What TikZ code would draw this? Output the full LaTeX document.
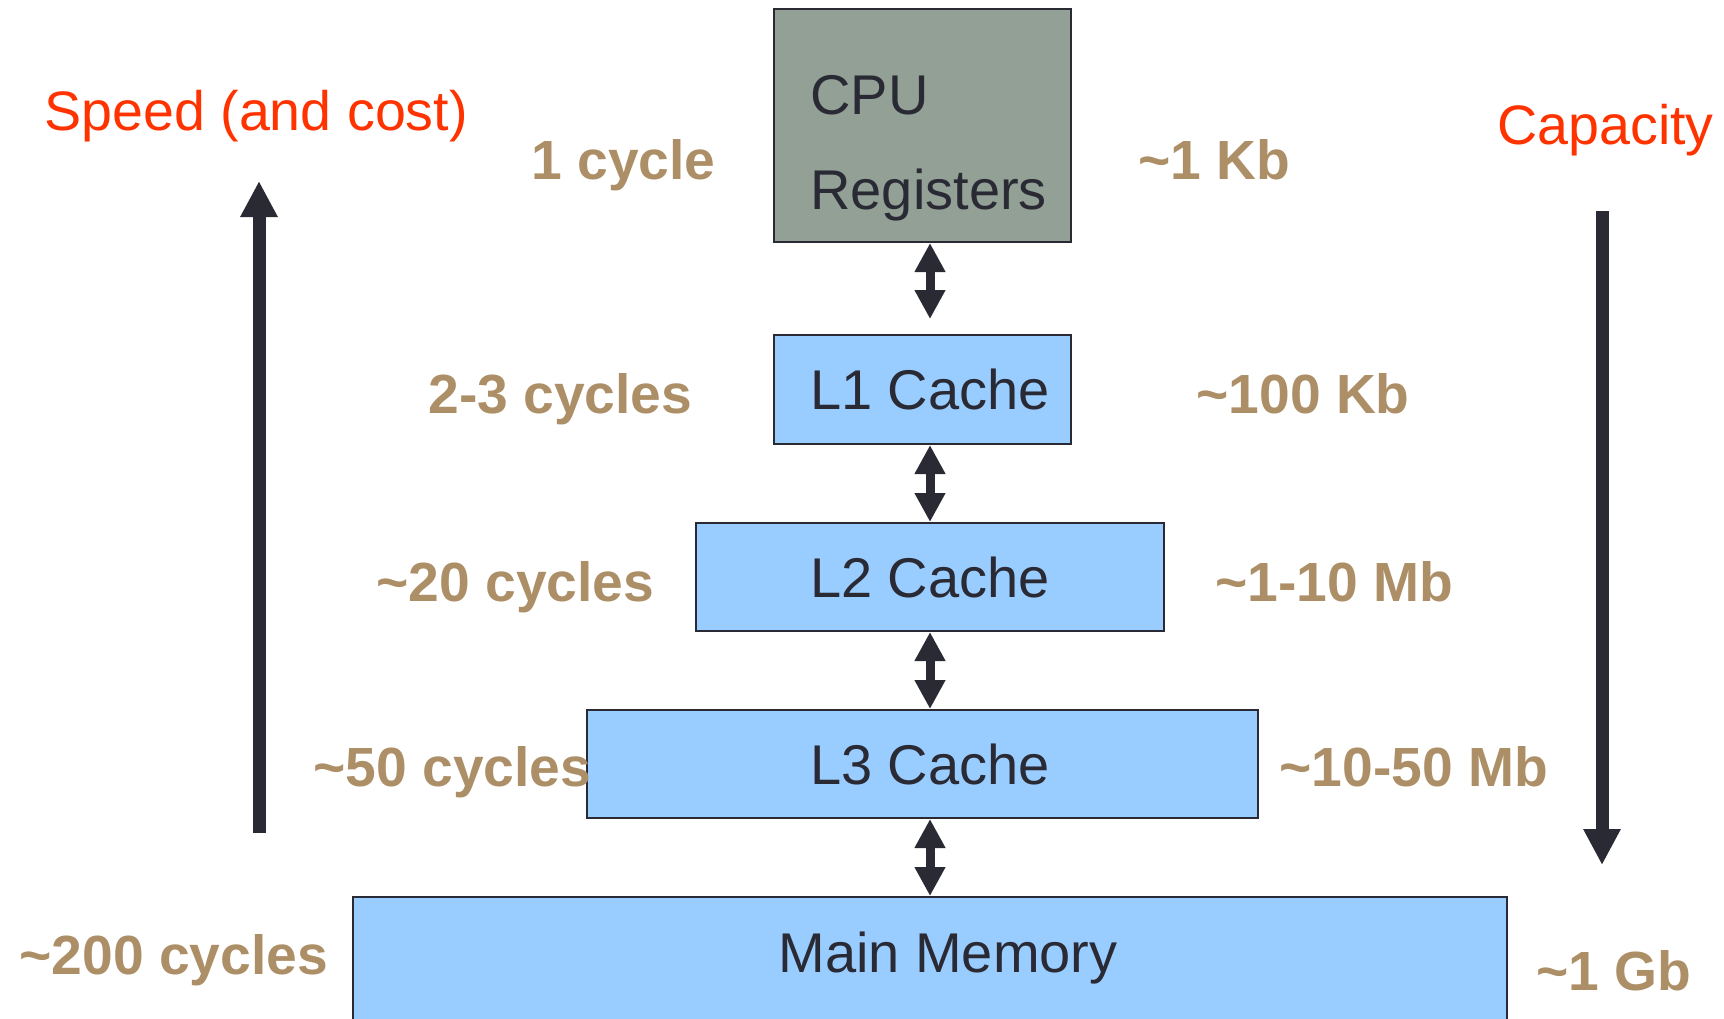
\documentclass[tikz,border=0pt]{standalone}
\usepackage{fontspec}
\setmainfont{Liberation Sans}
\usetikzlibrary{arrows.meta}

\definecolor{cpugray}{RGB}{146,160,150}
\definecolor{cacheblue}{RGB}{153,204,255}
\definecolor{darkink}{RGB}{42,42,52}
\definecolor{axisred}{RGB}{255,51,0}
\definecolor{costtan}{RGB}{173,143,103}

\begin{document}
\begin{tikzpicture}[x=0.5pt,y=-0.5pt,
        box/.style={draw=darkink, line width=1pt, rectangle, inner sep=0pt, text=darkink, font=\fontsize{28}{33}\selectfont},
        boxtext/.style={inner sep=0pt, text=darkink, font=\fontsize{28}{33}\selectfont},
        cost/.style={inner sep=0pt, text=costtan, font=\fontsize{27.6}{33}\selectfont\bfseries},
        axislabel/.style={inner sep=0pt, text=axisred, font=\fontsize{27.8}{33}\selectfont},
        link/.style={draw=darkink, line width=4.5pt, {Triangle[width=14.5pt,length=14.5pt]}-{Triangle[width=14.5pt,length=14.5pt]}},
        trend/.style={draw=darkink, line width=6.5pt, -{Triangle[width=17.5pt,length=18pt]}}]
        % Define Variables
        \def\spdx{259}
        \def\capx{1602}
        \clip (0,0) rectangle (1724,1018);

        % Hierarchy
        \node[box, fill=cpugray, minimum width=148.5pt, minimum height=116.5pt] at (922.5,125.5) (cpu) {};
        \node[boxtext, anchor=base west] at (810,114) (cpu-a) {CPU};
        \node[boxtext, anchor=base west] at (810,209) (cpu-b) {Registers};
        \node[box, fill=cacheblue, minimum width=148.5pt, minimum height=54.5pt] at (922.5,389.5) (l1) {\hspace*{7.5pt}L1 Cache};
        \node[box, fill=cacheblue, minimum width=234pt, minimum height=54pt] at (930,577) (l2) {L2 Cache};
        \node[box, fill=cacheblue, minimum width=335.5pt, minimum height=54pt] at (922.5,764) (l3) {\hspace*{7.5pt}L3 Cache};
        \node[box, fill=cacheblue, minimum width=577pt, minimum height=70pt] at (930,967) (mm) {};
        \node[boxtext, anchor=base] at (948,972) (mm-t) {Main Memory};

        % Links
        \draw[link, shorten >=7.5pt] (cpu.south -| l2.north) -- (l1.north -| l2.north);
        \draw[link] (l1.south -| l2.north) -- (l2.north);
        \draw[link] (l2.south) -- (l3.north -| l2.north);
        \draw[link] (l3.south -| l2.north) -- (mm.north -| l2.north);

        % Speed and Capacity
        \node[axislabel, anchor=base west] at (44,130) (speed) {Speed (and cost)};
        \node[axislabel, anchor=base west] at (1497,144) (capacity) {Capacity};
        \coordinate (spd-lo) at (\spdx,833);
        \coordinate (spd-hi) at (\spdx,181);
        \draw[trend] (spd-lo) -- (spd-hi);
        \coordinate (cap-hi) at (\capx,211);
        \coordinate (cap-lo) at (\capx,865);
        \draw[trend] (cap-hi) -- (cap-lo);

        % Latency
        \node[cost, anchor=base west] at (531,179) (lat-cpu) {1 cycle};
        \node[cost, anchor=base west] at (428,413) (lat-l1) {2-3 cycles};
        \node[cost, anchor=base west] at (376,601) (lat-l2) {\textasciitilde20 cycles};
        \node[cost, anchor=base west] at (313,786) (lat-l3) {\textasciitilde50 cycles};
        \node[cost, anchor=base west] at (19,974) (lat-mm) {\textasciitilde200 cycles};

        % Size
        \node[cost, anchor=base west] at (1138,179) (size-cpu) {\textasciitilde1 Kb};
        \node[cost, anchor=base west] at (1196,413) (size-l1) {\textasciitilde100 Kb};
        \node[cost, anchor=base west] at (1215,601) (size-l2) {\textasciitilde1-10 Mb};
        \node[cost, anchor=base west] at (1279,786) (size-l3) {\textasciitilde10-50 Mb};
        \node[cost, anchor=base west] at (1536,990) (size-mm) {\textasciitilde1 Gb};
\end{tikzpicture}
\end{document}
